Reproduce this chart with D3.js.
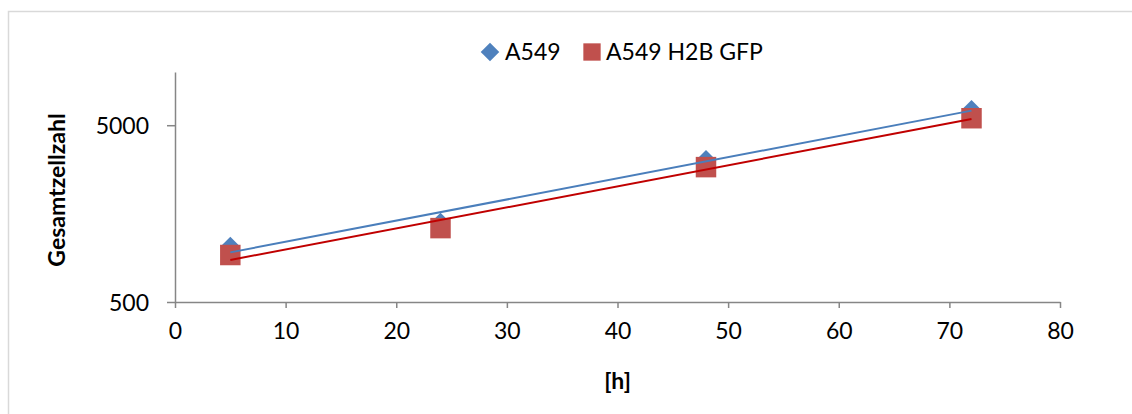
<!DOCTYPE html>
<html>
<head>
<meta charset="utf-8">
<script src="https://cdn.jsdelivr.net/npm/d3@7"></script>
<style>
  body { margin: 0; background: #fff; }
  text { font-family: Lato, "Open Sans", sans-serif; fill: #000; }
</style>
</head>
<body>
<div id="chart"></div>
<script>
// values
const hours = [5, 24, 48, 72];
const a549 = [1036, 1416, 3213, 6157];
const a549gfp = [922, 1309, 2897, 5477];
const xTicks = [0, 10, 20, 30, 40, 50, 60, 70, 80];
const yTicks = [500, 5000];

const width = 1132;
const height = 414;
const margin = {left: 175, right: 72, top: 72, bottom: 112};

const svg = d3.select("#chart")
  .append("svg")
  .attr("width", width)
  .attr("height", height);

// chart frame
svg.append("rect")
  .attr("x", 8.5).attr("y", 11.5)
  .attr("width", width).attr("height", height)
  .attr("fill", "none")
  .attr("stroke", "#d9d9d9")
  .attr("stroke-width", 1.5);

const x = d3.scaleLinear()
  .domain([0, 80])
  .range([margin.left, width - margin.right]);

const y = d3.scaleLog()
  .domain([500, 10000])
  .range([height - margin.bottom, margin.top]);

// x axis
const xAxis = svg.append("g")
  .attr("transform", `translate(0,${height - margin.bottom})`)
  .call(d3.axisBottom(x).tickValues(xTicks).tickSize(6).tickSizeOuter(0).tickPadding(15));
xAxis.selectAll("text").attr("font-size", "23px").style("font-family", "Lato");

// y axis
const yAxis = svg.append("g")
  .attr("transform", `translate(${margin.left},0)`)
  .call(d3.axisLeft(y).tickValues(yTicks).tickFormat(d3.format("d")).tickSize(8).tickSizeOuter(0).tickPadding(18));
yAxis.selectAll("text").attr("font-size", "23px").attr("dy", "0.36em").style("font-family", "Lato");

svg.selectAll(".domain, .tick line").attr("stroke", "#868686").attr("stroke-width", 1.5);

// axis titles
svg.append("text")
  .attr("x", (x(0) + x(80)) / 2)
  .attr("y", 389)
  .attr("text-anchor", "middle")
  .attr("font-size", "23px")
  .attr("font-weight", "bold")
  .text("[h]");

svg.append("text")
  .attr("transform", `translate(65,${(y(500) + y(10000)) / 2 + 3}) rotate(-90)`)
  .attr("text-anchor", "middle")
  .attr("font-size", "23px")
  .attr("font-weight", "bold")
  .text("Gesamtzellzahl");

// exponential trendline (least squares on ln y)
function expFit(xs, ys) {
  const ly = ys.map(v => Math.log(v));
  const mx = d3.mean(xs), my = d3.mean(ly);
  const b = d3.sum(xs, (v, i) => (v - mx) * (ly[i] - my)) / d3.sum(xs, v => (v - mx) * (v - mx));
  const a = my - b * mx;
  return t => Math.exp(a + b * t);
}

const series = [
  {name: "A549", values: a549, color: "#4F81BD", line: "#4A7EBB", shape: d3.symbolDiamond2},
  {name: "A549 H2B GFP", values: a549gfp, color: "#C0504D", line: "#C00000", shape: d3.symbolSquare}
];

// markers first, trendlines on top
series.forEach(s => {
  svg.selectAll(null)
    .data(hours)
    .enter()
    .append("path")
    .attr("d", d3.symbol().type(s.shape).size(s.shape === d3.symbolSquare ? 420 : 220))
    .attr("transform", (d, i) => `translate(${x(d)},${y(s.values[i])})`)
    .attr("fill", s.color);
});

series.forEach(s => {
  const f = expFit(hours, s.values);
  const x0 = d3.min(hours), x1 = d3.max(hours);
  svg.append("line")
    .attr("x1", x(x0)).attr("y1", y(f(x0)))
    .attr("x2", x(x1)).attr("y2", y(f(x1)))
    .attr("stroke", s.line)
    .attr("stroke-width", 2);
});

// legend
const legend = [
  {name: "A549", color: "#4F81BD", shape: d3.symbolDiamond2, size: 220, mx: 490, tx: 505},
  {name: "A549 H2B GFP", color: "#C0504D", shape: d3.symbolSquare, size: 300, mx: 592, tx: 606}
];
legend.forEach(l => {
  svg.append("path")
    .attr("d", d3.symbol().type(l.shape).size(l.size))
    .attr("transform", `translate(${l.mx},52)`)
    .attr("fill", l.color);
  svg.append("text")
    .attr("x", l.tx)
    .attr("y", 60)
    .attr("font-size", "23px")
    .text(l.name);
});
</script>
</body>
</html>
